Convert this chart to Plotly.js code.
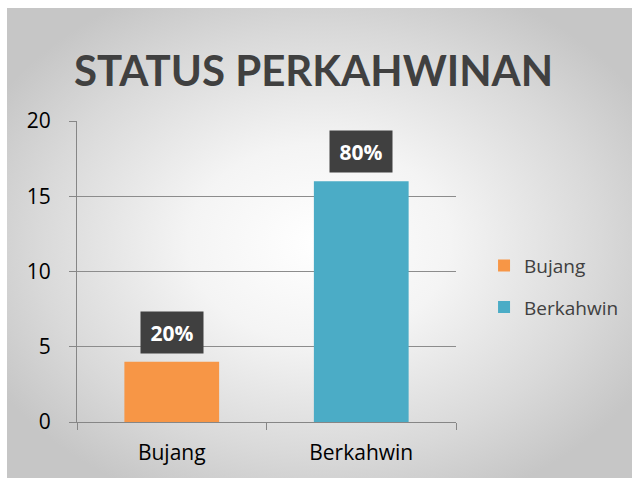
<!DOCTYPE html>
<html><head><meta charset="utf-8">
<script src="https://cdn.plot.ly/plotly-3.0.1.min.js"></script>
<style>
html,body{margin:0;padding:0;background:#fff;}
#bg{position:absolute;left:7px;top:8px;width:625px;height:470px;
background:radial-gradient(ellipse 60% 60% at 50% 50%, #ffffff 0%, #f4f4f4 35%, #d9d9d9 75%, #c6c6c6 100%);}
#chart{position:absolute;left:0;top:0;width:640px;height:485px;}
</style></head>
<body><div id="bg"></div><div id="chart"></div>
<script>
const categories = ['Bujang', 'Berkahwin'];
const values = [4, 16];
const labels = ['20%', '80%'];
const colors = ['#F79646', '#4BACC6'];

const traces = categories.map((c, i) => ({
  type: 'bar', name: c, x: [c], y: [values[i]],
  marker: {color: colors[i]}, width: 0.5,
  legendgroup: c, hoverinfo: 'none'
}));

const annotations = categories.map((c, i) => ({
  x: c, y: values[i], xref: 'x', yref: 'y',
  text: '<b>' + labels[i] + '</b>', showarrow: false,
  yanchor: 'bottom', yshift: 8,
  font: {family: 'Open Sans, sans-serif', size: 21, color: '#ffffff'},
  bgcolor: '#404040', borderpad: 6, width: 50, height: 29
}));

const layout = {
  width: 640, height: 485,
  paper_bgcolor: 'rgba(0,0,0,0)', plot_bgcolor: 'rgba(0,0,0,0)',
  margin: {l: 77, r: 184, t: 121, b: 63},
  title: {text: '<b>STATUS PERKAHWINAN</b>', x: 0.49, xanchor: 'center', y: 0.852, yanchor: 'middle',
    font: {family: 'Lato, sans-serif', size: 42, color: '#404040'}},
  barmode: 'overlay',
  showlegend: true,
  legend: {x: 1.074, xanchor: 'left', y: 0.45, yanchor: 'middle', traceorder: 'grouped', tracegroupgap: 14,
    font: {family: 'Open Sans, sans-serif', size: 19, color: '#404040'}, bgcolor: 'rgba(0,0,0,0)', itemwidth: 30},
  xaxis: {type: 'category', categoryorder: 'array', categoryarray: categories,
    showline: true, linecolor: '#868686', linewidth: 1, ticks: 'outside', tickson: 'boundaries',
    ticklen: 7, tickcolor: '#868686', ticklabelstandoff: 12,
    tickfont: {family: 'Open Sans, sans-serif', size: 21, color: '#000'}, showgrid: false, zeroline: false},
  yaxis: {range: [0, 20], dtick: 5, showline: true, linecolor: '#868686', linewidth: 1,
    ticks: 'outside', ticklen: 7, tickcolor: '#868686', ticklabelstandoff: 14,
    gridcolor: '#8c8c8c', gridwidth: 1, zeroline: false,
    tickfont: {family: 'Open Sans, sans-serif', size: 21, color: '#000'}},
  annotations: annotations
};
Plotly.newPlot('chart', traces, layout, {displayModeBar: false, staticPlot: true});
</script></body></html>
